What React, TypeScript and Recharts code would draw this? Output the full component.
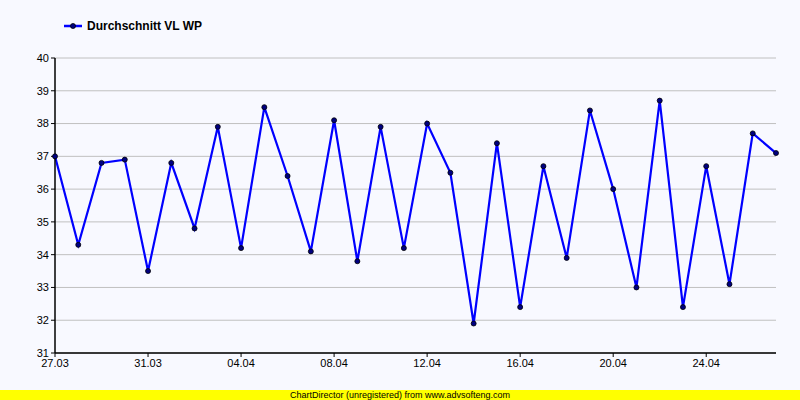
import React from 'react';
import { LineChart, Line, XAxis, YAxis, CartesianGrid, Legend } from 'recharts';

const dates = [
  '27.03', '28.03', '29.03', '30.03', '31.03', '01.04', '02.04', '03.04',
  '04.04', '05.04', '06.04', '07.04', '08.04', '09.04', '10.04', '11.04',
  '12.04', '13.04', '14.04', '15.04', '16.04', '17.04', '18.04', '19.04',
  '20.04', '21.04', '22.04', '23.04', '24.04', '25.04', '26.04', '27.04',
];

const average = [
  37.0, 34.3, 36.8, 36.9, 33.5, 36.8, 34.8, 37.9,
  34.2, 38.5, 36.4, 34.1, 38.1, 33.8, 37.9, 34.2,
  38.0, 36.5, 31.9, 37.4, 32.4, 36.7, 33.9, 38.4,
  36.0, 33.0, 38.7, 32.4, 36.7, 33.1, 37.7, 37.1,
];

const yTicks = [31, 32, 33, 34, 35, 36, 37, 38, 39, 40];

const seriesName = 'Durchschnitt VL WP';

const data = dates.map((d, i) => ({ date: d, avg: average[i] }));

const FONT = '"Liberation Sans", Arial, sans-serif';

const LegendContent = () => (
  <div style={{ display: 'flex', alignItems: 'center', fontFamily: FONT, fontSize: 12, fontWeight: 'bold', color: '#000' }}>
    <svg width={18} height={8} style={{ marginRight: 5 }}>
      <line x1={0} y1={4} x2={18} y2={4} stroke="#0000ff" strokeWidth={2.5} />
      <circle cx={9} cy={4} r={2.5} fill="#000080" stroke="#000" strokeWidth={0.8} />
    </svg>
    <span>{seriesName}</span>
  </div>
);

const App: React.FC = () => {
  return (
    <div style={{ position: 'absolute', left: 0, top: 0, width: 800, height: 400, background: '#f8f9ff' }}>
      <LineChart
        width={800}
        height={400}
        data={data}
        margin={{ top: 58, right: 24, bottom: 17, left: 0 }}
      >
        <CartesianGrid horizontal vertical={false} stroke="#c0c0c0" strokeWidth={1} />
        <XAxis
          dataKey="date"
          interval={3}
          height={30}
          tickSize={4}
          tickLine={{ stroke: '#000' }}
          axisLine={{ stroke: '#000', strokeWidth: 1.5 }}
          tick={{ fill: '#000', fontSize: 11, fontFamily: FONT }}
        />
        <XAxis
          xAxisId="top"
          dataKey="date"
          orientation="top"
          height={0}
          tick={false}
          tickLine={false}
          axisLine={{ stroke: '#000', strokeWidth: 1.5 }}
        />
        <YAxis
          domain={[31, 40]}
          ticks={yTicks}
          width={55}
          tickSize={4}
          tickLine={{ stroke: '#000' }}
          axisLine={{ stroke: '#000', strokeWidth: 1.5 }}
          tick={{ fill: '#000', fontSize: 11, fontFamily: FONT }}
        />
        <YAxis
          yAxisId="right"
          orientation="right"
          domain={[31, 40]}
          width={0}
          tick={false}
          tickLine={false}
          axisLine={{ stroke: '#000', strokeWidth: 1.5 }}
        />
        <Legend
          verticalAlign="middle"
          align="center"
          content={<LegendContent />}
          wrapperStyle={{ position: 'absolute', top: 19, left: 64, width: 300, height: 16 }}
        />
        <Line
          type="linear"
          dataKey="avg"
          name={seriesName}
          stroke="#0000ff"
          strokeWidth={2.2}
          dot={{ r: 2.5, fill: '#000080', stroke: '#000', strokeWidth: 0.8 }}
          activeDot={false}
          isAnimationActive={false}
        />
      </LineChart>
      <div
        style={{
          position: 'absolute', left: 0, top: 390, width: 800, height: 10,
          background: '#ffff00', fontFamily: FONT, fontSize: 9, lineHeight: '10px',
          textAlign: 'center', color: '#000',
        }}
      >
        ChartDirector (unregistered) from www.advsofteng.com
      </div>
    </div>
  );
};

export default App;
